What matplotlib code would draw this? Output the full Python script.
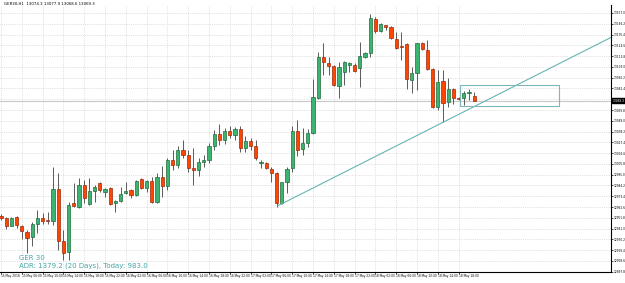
import numpy as np
import matplotlib
matplotlib.use("Agg")
import matplotlib.pyplot as plt
from matplotlib.patches import Rectangle

# ── Data (GER30, H1) ──────────────────────────────────────────
opens = [12954, 12952, 12944, 12953, 12944, 12938, 12933, 12946, 12952, 12950,
         12949, 12981, 12929, 12918, 12967, 12963, 12985, 12966, 12979, 12987,
         12978, 12982, 12967, 12969, 12977, 12980, 12975, 12991, 12982, 12989,
         12968, 12993, 12984, 13010, 13005, 13020, 13015, 13002, 13000, 13008,
         13010, 13024, 13036, 13030, 13039, 13035, 13041, 13022, 13029, 13024,
         13007, 13007, 13001, 12997, 12967, 12988, 13002, 13039, 13021, 13027,
         13037, 13072, 13113, 13107, 13104, 13084, 13098, 13105, 13105, 13102,
         13113, 13117, 13151, 13139, 13145, 13143, 13131, 13124, 13126, 13090,
         13097, 13127, 13120, 13101, 13063, 13089, 13068, 13081, 13072, 13072,
         13077, 13074.3]
highs = [12956, 12953, 12953, 12954, 12945, 12940, 12948, 12960, 12957, 12958,
         13003, 12997, 12940, 12968, 12987, 12992, 12990, 12992, 12985, 12988,
         12982, 12983, 12970, 12983, 12988, 12981, 12990, 12992, 12990, 12993,
         12997, 13004, 13012, 13020, 13024, 13030, 13020, 13022, 13012, 13015,
         13027, 13040, 13046, 13042, 13044, 13043, 13044, 13034, 13032, 13030,
         13010, 13008, 13003, 12998, 12988, 13003, 13044, 13050, 13042, 13041,
         13091, 13118, 13127, 13113, 13105, 13108, 13109, 13108, 13107, 13128,
         13118, 13156, 13153, 13147, 13145, 13144, 13138, 13138, 13127, 13103,
         13127, 13128, 13130, 13102, 13100, 13100, 13092, 13082, 13073, 13079,
         13081, 13077.9]
lows = [12950, 12941, 12944, 12942, 12931, 12917, 12924, 12937, 12946, 12946,
        12945, 12920, 12910, 12910, 12963, 12962, 12967, 12965, 12968, 12978,
        12973, 12965, 12958, 12968, 12976, 12972, 12974, 12981, 12978, 12967,
        12967, 12973, 12980, 13000, 13002, 13012, 12998, 12985, 12994, 13003,
        13007, 13020, 13025, 13026, 13032, 13030, 13018, 13018, 13020, 13010,
        13002, 13001, 12988, 12963, 12966, 12977, 12998, 13014, 13015, 13023,
        13036, 13071, 13095, 13095, 13084, 13072, 13085, 13098, 13098, 13083,
        13112, 13113, 13137, 13138, 13140, 13131, 13121, 13110, 13081, 13077,
        13080, 13120, 13100, 13062, 13060, 13048, 13063, 13066, 13070, 13065,
        13070, 13068.6]
closes = [12952, 12944, 12952, 12945, 12939, 12932, 12946, 12952, 12949, 12949,
          12981, 12929, 12917, 12965, 12964, 12985, 12972, 12979, 12983, 12980,
          12981, 12966, 12969, 12976, 12979, 12975, 12989, 12982, 12989, 12968,
          12993, 12984, 13010, 13005, 13020, 13015, 13002, 13000, 13008, 13010,
          13024, 13036, 13030, 13039, 13035, 13041, 13022, 13029, 13024, 13012,
          13008, 13002, 12997, 12967, 12988, 13001, 13039, 13020, 13027, 13037,
          13073, 13113, 13108, 13104, 13085, 13103, 13108, 13107, 13099, 13114,
          13117, 13152, 13139, 13146, 13143, 13132, 13122, 13123, 13091, 13097,
          13127, 13121, 13101, 13063, 13088, 13067, 13081, 13072, 13071, 13077,
          13077.5, 13069.3]

time_labels = ["15 May 2018", "15 May 06:00", "15 May 10:00", "15 May 14:00",
               "15 May 18:00", "15 May 22:00", "16 May 02:00", "16 May 06:00",
               "16 May 10:00", "16 May 14:00", "16 May 18:00", "16 May 22:00",
               "17 May 02:00", "17 May 06:00", "17 May 10:00", "17 May 14:00",
               "17 May 18:00", "17 May 22:00", "18 May 02:00", "18 May 06:00",
               "18 May 10:00", "18 May 14:00", "18 May 18:00"]
label_bars = list(range(0, 92, 4))

price_ticks = [13157.0, 13146.2, 13135.4, 13124.6, 13113.8, 13103.0, 13092.2,
               13081.4, 13070.6, 13059.8, 13049.0, 13038.2, 13027.4, 13016.6,
               13005.8, 12995.0, 12984.2, 12973.4, 12962.6, 12951.8, 12941.0,
               12930.2, 12919.4, 12908.6, 12897.8]

bid = 13069.3
trend_x = [53.3, 85.2]          # anchor bars of the trendline
trend_y = [12964, 13048]
box_x = [88.3, 107.3]
box_y = [13064, 13085]

# ── Figure ────────────────────────────────────────────────────
W, H = 625, 283
fig = plt.figure(figsize=(W / 100, H / 100), dpi=100)
ax = fig.add_axes([0, 1 - 272 / H, 611 / W, 267 / H])

x = np.arange(len(opens))
o = np.array(opens); c = np.array(closes)
up = c >= o

ax.vlines(x, lows, highs, color="#5a5a5a", linewidth=0.7, zorder=3)
body_bot = np.minimum(o, c)
body_h = np.maximum(np.abs(c - o), 0.8)
ax.bar(x[up], body_h[up], bottom=body_bot[up], width=0.6,
       color="#3cb371", edgecolor="#1f6b3c", linewidth=0.5, zorder=4)
ax.bar(x[~up], body_h[~up], bottom=body_bot[~up], width=0.6,
       color="#ff4500", edgecolor="#9a2a10", linewidth=0.5, zorder=4)

# bid line
ax.axhline(bid, color="#c8c8c8", linewidth=0.8, zorder=1)

# trendline (ray to the right)
slope = (trend_y[1] - trend_y[0]) / (trend_x[1] - trend_x[0])
x_end = 117.3
ax.plot([trend_x[0], x_end], [trend_y[0], trend_y[0] + slope * (x_end - trend_x[0])],
        color="#66b5b5", linewidth=0.8, zorder=5)

# rectangle
ax.add_patch(Rectangle((box_x[0], box_y[0]), box_x[1] - box_x[0], box_y[1] - box_y[0],
                       fill=False, edgecolor="#7fb7b7", linewidth=0.8, zorder=5))

ax.set_xlim(-0.19, 117.3)
ax.set_ylim(12897.5, 13165)

ax.set_xticks(label_bars)
ax.set_xticklabels(time_labels, fontsize=2.1, ha="left")
ax.set_yticks(price_ticks)
ax.set_yticklabels([f"{v:.1f}" for v in price_ticks], fontsize=2.1)
ax.yaxis.tick_right()
ax.tick_params(axis="both", length=1.2, width=0.5, pad=0.6, colors="black")
ax.grid(True, color="#c8c8c8", linestyle=":", linewidth=0.5)
ax.set_axisbelow(True)

for s in ["top", "left"]:
    ax.spines[s].set_visible(False)
for s in ["right", "bottom"]:
    ax.spines[s].set_color("black")
    ax.spines[s].set_linewidth(0.8)

# current price label
ax.text(1.002, bid, f"{bid:.1f}", transform=ax.get_yaxis_transform(),
        fontsize=2.1, color="white", va="center", ha="left",
        bbox=dict(boxstyle="square,pad=0.15", facecolor="black", edgecolor="black"),
        zorder=10)

fig.text(4 / W, 1 - 4 / H, "GER30,H1  13074.3 13077.9 13068.6 13069.3",
         fontsize=2.8, va="center", ha="left")
fig.text(19 / W, 1 - 258 / H, "GER 30", fontsize=5, color="#45a5a5",
         va="center", ha="left")
fig.text(19 / W, 1 - 266 / H, "ADR: 1379.2 (20 Days), Today: 983.0", fontsize=5,
         color="#45a5a5", va="center", ha="left")

fig.savefig("out.png", dpi=100)
